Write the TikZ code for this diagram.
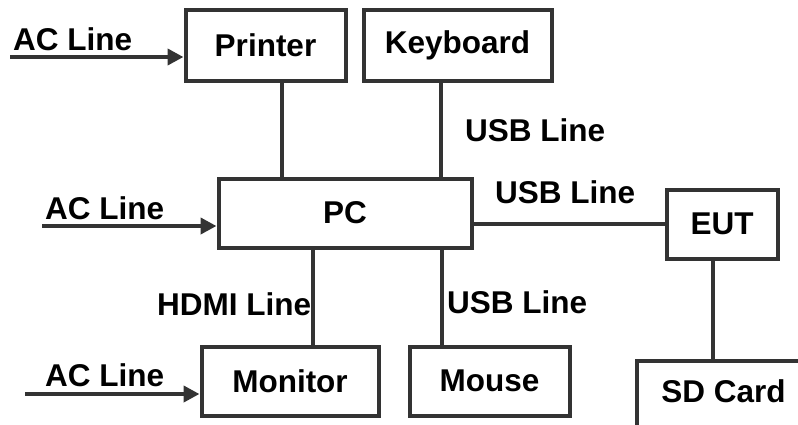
\documentclass[tikz,border=0pt]{standalone}
\usepackage{fontspec}
\setmainfont{Liberation Sans}
\usetikzlibrary{arrows.meta, positioning, calc}

\begin{document}
\begin{tikzpicture}[x=1pt, y=-1pt, >={Triangle[length=16pt,width=16pt]},
        box/.style={draw=black!80, line width=4pt, inner sep=0pt,
            font=\fontsize{31.5}{36}\selectfont\bfseries},
        lbl/.style={inner sep=0pt, anchor=base west,
            font=\fontsize{31.5}{36}\selectfont\bfseries},
        wire/.style={draw=black!80, line width=4pt}]
        \clip (0,0) rectangle (798,424);
        % boxes
        \node[box, minimum width=160, minimum height=71] (printer) at (265.5,45) {Printer};
        \node[box, minimum width=188, minimum height=71] (keyboard) at (457.5,45) {Keyboard};
        \node[box, minimum width=253, minimum height=69] (pc) at (345,213) {PC};
        \node[box, minimum width=111, minimum height=69] (eut) at (722,224) {EUT};
        \node[box, minimum width=177, minimum height=69] (monitor) at (290,381) {Monitor};
        \node[box, minimum width=160, minimum height=69] (mouse) at (489.5,381) {Mouse};
        \node[box, minimum width=174, minimum height=90, text height=23pt, text depth=29pt,
            anchor=north west] (sdcard) at (634.5,358.5) {SD Card};
        % power in
        \coordinate (ac1) at (10,57);
        \coordinate (ac2) at (42,226);
        \coordinate (ac3) at (25,394);
        \draw[wire,->] (ac1) -- (ac1 -| printer.west);
        \draw[wire,->] (ac2) -- (ac2 -| pc.west);
        \draw[wire,->] (ac3) -- (ac3 -| monitor.west);
        % cables
        \draw[wire] ([xshift=16.5pt]printer.south) -- ([xshift=16.5pt]printer.south |- pc.north);
        \draw[wire] ([xshift=-16.5pt]keyboard.south) -- ([xshift=-16.5pt]keyboard.south |- pc.north);
        \draw[wire] (eut.west -| pc.east) -- (eut.west);
        \draw[wire] ([xshift=-32pt]pc.south) -- ([xshift=-32pt]pc.south |- monitor.north);
        \draw[wire] ([xshift=97pt]pc.south) -- ([xshift=97pt]pc.south |- mouse.north);
        \draw[wire] ([xshift=-9pt]eut.south) -- ([xshift=-9pt]eut.south |- sdcard.north);
        % labels
        \node[lbl] (ac1lbl) at (13,50) {AC Line};
        \node[lbl] (ac2lbl) at (45,219) {AC Line};
        \node[lbl] (ac3lbl) at (45,386) {AC Line};
        \node[lbl] (usb1) at (465,141) {USB Line};
        \node[lbl] (usb2) at (495,203) {USB Line};
        \node[lbl] (hdmi) at (157,315) {HDMI Line};
        \node[lbl] (usb3) at (447,313) {USB Line};
\end{tikzpicture}
\end{document}
